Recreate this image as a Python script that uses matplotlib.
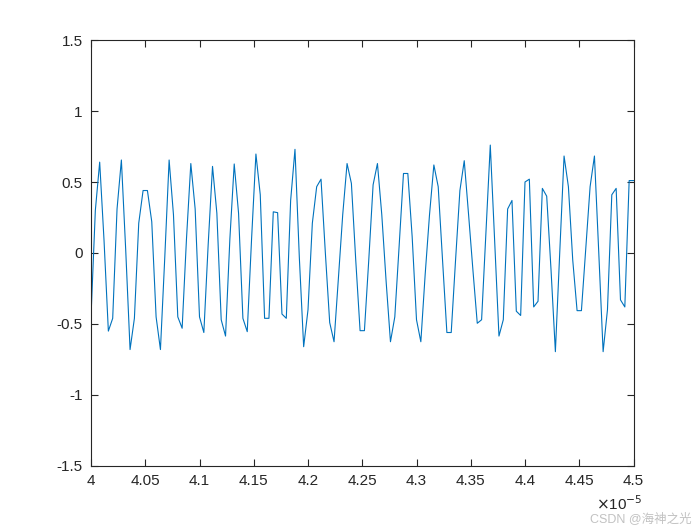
import numpy as np
import matplotlib
matplotlib.use("Agg")
import matplotlib.pyplot as plt
from matplotlib.ticker import FuncFormatter

plt.rcParams['font.family'] = ['Liberation Sans', 'Noto Sans CJK SC', 'DejaVu Sans']

t_start = 4.0e-5
t_end = 4.5e-5
signal = [
    -0.45, 0.30, 0.64, 0.09, -0.55, -0.46, 0.31, 0.655, 0.02, -0.68,
    -0.46, 0.21, 0.44, 0.44, 0.22, -0.45, -0.68, -0.03, 0.655, 0.27,
    -0.45, -0.53, 0.10, 0.63, 0.31, -0.45, -0.56, 0.06, 0.61, 0.28,
    -0.47, -0.585, 0.10, 0.627, 0.28, -0.46, -0.554, 0.10, 0.697, 0.41,
    -0.46, -0.46, 0.29, 0.284, -0.43, -0.46, 0.37, 0.73, -0.03, -0.66,
    -0.40, 0.21, 0.467, 0.52, 0.0, -0.49, -0.625, -0.18, 0.27, 0.63,
    0.49, -0.05, -0.547, -0.547, -0.05, 0.48, 0.63, 0.27, -0.2, -0.625,
    -0.45, 0.05, 0.56, 0.56, 0.115, -0.47, -0.625, -0.15, 0.27, 0.62,
    0.467, -0.05, -0.56, -0.56, -0.05, 0.44, 0.65, 0.27, -0.12, -0.495,
    -0.47, 0.145, 0.76, 0.09, -0.585, -0.47, 0.31, 0.37, -0.41, -0.44,
    0.50, 0.52, -0.38, -0.34, 0.455, 0.40, -0.12, -0.695, 0.0, 0.683,
    0.467, -0.05, -0.406, -0.406, 0.03, 0.467, 0.683, 0.0, -0.695, -0.40,
    0.41, 0.455, -0.33, -0.38, 0.51, 0.51,
]
t = np.linspace(t_start, t_end, len(signal))

xticks = [4.0, 4.05, 4.1, 4.15, 4.2, 4.25, 4.3, 4.35, 4.4, 4.45, 4.5]
yticks = [-1.5, -1, -0.5, 0, 0.5, 1, 1.5]

fig = plt.figure(figsize=(7, 5.25), dpi=100)
ax = fig.add_axes([0.13, 0.1124, 0.775, 0.8114])

ax.plot(t, signal, color='#0072BD', linewidth=0.8)

ax.set_xlim(t_start, t_end)
ax.set_ylim(-1.5, 1.5)
ax.set_xticks([v * 1e-5 for v in xticks])
ax.xaxis.set_major_formatter(FuncFormatter(lambda v, p: f"{v / 1e-5:g}"))
ax.set_yticks(yticks)
ax.yaxis.set_major_formatter(FuncFormatter(lambda v, p: f"{v:g}"))

edge = '#262626'
for s in ax.spines.values():
    s.set_color(edge)
    s.set_linewidth(0.8)
ax.tick_params(direction='in', length=5, width=0.8, color=edge,
               labelcolor=edge, labelsize=11, top=True, right=True, pad=6)

# exponent label and the watermark in the bottom-right corner
fig.text(0.852, 0.028, r'$\times$10$^{-5}$', fontsize=11, color=edge)
fig.text(0.988, 0.006, 'CSDN @海神之光', fontsize=9, color='#999999',
         alpha=0.6, ha='right')

fig.savefig('out.png', dpi=100, facecolor='white')
